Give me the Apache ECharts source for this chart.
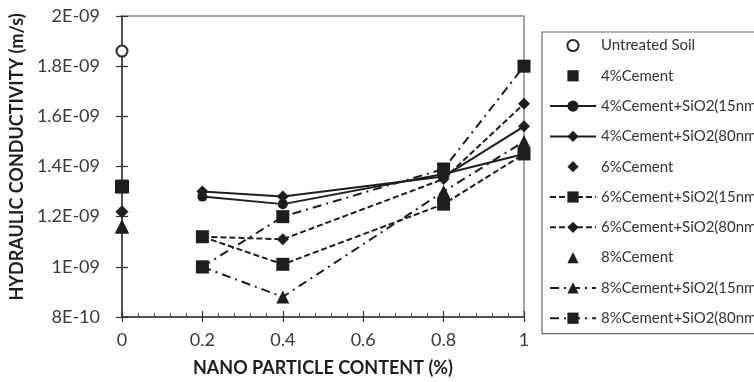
<!DOCTYPE html>
<html>
<head>
<meta charset="utf-8">
<script src="https://cdn.jsdelivr.net/npm/echarts@6/dist/echarts.min.js"></script>
<style>
  html, body { margin: 0; padding: 0; background: #fff; }
  #main { width: 754px; height: 382px; }
</style>
</head>
<body>
<div id="main"></div>
<script>
// nano particle content (%)
var content = [0.2, 0.4, 0.8, 1];

// conductivity values in units of 1E-09 m/s
var untreatedSoil = 1.86;
var cement4 = 1.32;
var cement6 = 1.22;
var cement8 = 1.16;
var cement4Si15 = [1.28, 1.25, 1.37, 1.45];
var cement4Si80 = [1.30, 1.28, 1.36, 1.56];
var cement6Si15 = [1.12, 1.01, 1.25, 1.45];
var cement6Si80 = [1.12, 1.11, 1.35, 1.65];
var cement8Si15 = [1.00, 0.88, 1.30, 1.50];
var cement8Si80 = [1.00, 1.20, 1.39, 1.80];

var xTicks = [0, 0.2, 0.4, 0.6, 0.8, 1];
var yTicks = [0.8, 1.0, 1.2, 1.4, 1.6, 1.8, 2.0];

var ink = '#1e1e1e';
var font = 'Lato, "Open Sans", sans-serif';

// excel style labels, 1.8 -> 1.8E-09, 0.8 -> 8E-10
function sciLabel(v) {
    var x = v * 1e-9;
    var e = Math.floor(Math.log10(x) + 1e-9);
    var m = Math.round(x / Math.pow(10, e) * 10) / 10;
    var ex = -e;
    return m + 'E-' + (ex < 10 ? '0' + ex : ex);
}

function pairs(vals) {
    var res = [];
    for (var i = 0; i < vals.length; i++) {
        res.push([content[i], vals[i]]);
    }
    return res;
}

var dashed = [6, 3];
var dashDot = [9, 5, 2, 5];

function lineSeries(name, vals, symbol, size, type) {
    return {
        name: name,
        type: 'line',
        data: pairs(vals),
        symbol: symbol,
        symbolSize: size,
        itemStyle: { color: ink },
        lineStyle: { color: ink, width: 2, type: type },
        animation: false
    };
}

// single point at 0 %, drawn as a line series with no line so the legend icon stays small
function pointSeries(name, val, symbol, size) {
    return {
        name: name,
        type: 'line',
        data: [[0, val]],
        symbol: symbol,
        symbolSize: size,
        itemStyle: { color: ink, borderColor: ink },
        lineStyle: { opacity: 0, width: 0 },
        animation: false
    };
}

var untreated = pointSeries('Untreated Soil', untreatedSoil, 'emptyCircle', 11);
untreated.itemStyle = { color: '#2a2a2a', borderWidth: 1.5 };

var option = {
    backgroundColor: '#fff',
    textStyle: { fontFamily: font },
    grid: {
        left: 113, right: 230, top: 16, bottom: 63,
        show: true, borderColor: '#8a8a8a', borderWidth: 1.5
    },
    legend: {
        orient: 'vertical',
        left: 542, top: 32,
        width: 300,
        padding: [6, 160, 8, 7],
        itemWidth: 46, itemHeight: 14, itemGap: 15.3,
        borderColor: '#6a6a6a', borderWidth: 1.2,
        textStyle: { fontSize: 15, color: '#333', fontFamily: font },
        data: ['Untreated Soil', '4%Cement', '4%Cement+SiO2(15nm', '4%Cement+SiO2(80nm', '6%Cement',
            '6%Cement+SiO2(15nm', '6%Cement+SiO2(80nm', '8%Cement', '8%Cement+SiO2(15nm', '8%Cement+SiO2(80nm']
    },
    xAxis: [{
        type: 'value', min: 0, max: 1, interval: 0.2,
        name: 'NANO PARTICLE CONTENT (%)', nameLocation: 'middle', nameGap: 42,
        nameTextStyle: { fontSize: 18, fontWeight: 'bold', color: ink, fontFamily: font },
        axisLine: { lineStyle: { color: '#333', width: 1.5 } },
        axisTick: { inside: true, length: 6, lineStyle: { color: '#333', width: 1.2 } },
        minorTick: { show: true, splitNumber: 5, length: 4, lineStyle: { color: '#555' } },
        axisLabel: { fontSize: 18, color: '#3a3a3a', margin: 14, fontFamily: font },
        splitLine: { show: false }
    }, {
        type: 'value', min: 0, max: 1, interval: 0.2, position: 'bottom',
        axisLine: { show: false },
        axisTick: { inside: false, length: 5, lineStyle: { color: '#333', width: 1.2 } },
        axisLabel: { show: false },
        splitLine: { show: false }
    }],
    yAxis: [{
        type: 'value', min: 0.8, max: 2, interval: 0.2,
        name: 'HYDRAULIC CONDUCTIVITY (m/s)', nameLocation: 'middle', nameGap: 86,
        nameTextStyle: { fontSize: 18, fontWeight: 'bold', color: ink, fontFamily: font, padding: [0, 0, 0, 19] },
        axisLine: { lineStyle: { color: '#333', width: 1.5 } },
        axisTick: { length: 6, lineStyle: { color: '#333', width: 1.2 } },
        axisLabel: { fontSize: 18, color: '#3a3a3a', margin: 22, fontFamily: font, formatter: sciLabel },
        splitLine: { show: false }
    }, {
        type: 'value', min: 0.8, max: 2, interval: 0.2, position: 'left',
        axisLine: { show: false },
        axisTick: { inside: true, length: 6, lineStyle: { color: '#333', width: 1.2 } },
        axisLabel: { show: false },
        splitLine: { show: false }
    }],
    series: [
        untreated,
        pointSeries('4%Cement', cement4, 'rect', 13),
        lineSeries('4%Cement+SiO2(15nm', cement4Si15, 'circle', 10, 'solid'),
        lineSeries('4%Cement+SiO2(80nm', cement4Si80, 'diamond', 12, 'solid'),
        pointSeries('6%Cement', cement6, 'diamond', 12),
        lineSeries('6%Cement+SiO2(15nm', cement6Si15, 'rect', 13, dashed),
        lineSeries('6%Cement+SiO2(80nm', cement6Si80, 'diamond', 12, dashed),
        pointSeries('8%Cement', cement8, 'triangle', 13),
        lineSeries('8%Cement+SiO2(15nm', cement8Si15, 'triangle', 13, dashDot),
        lineSeries('8%Cement+SiO2(80nm', cement8Si80, 'rect', 13, dashDot)
    ]
};

var myChart = echarts.init(document.getElementById('main'));
myChart.setOption(option);
</script>
</body>
</html>
